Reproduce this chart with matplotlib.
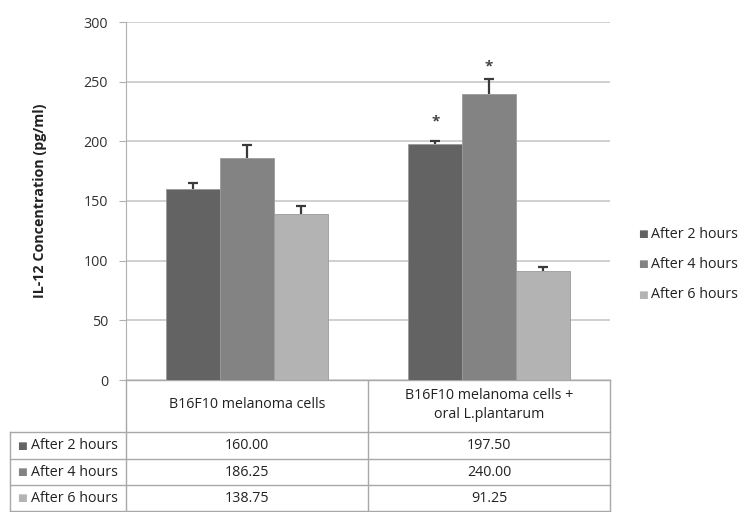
import numpy as np
import matplotlib.pyplot as plt

plt.rcParams['font.family'] = ['Open Sans', 'DejaVu Sans']

# IL-12 values per group
groups = ["B16F10 melanoma cells", "B16F10 melanoma cells +\noral L.plantarum"]
series = ["After 2 hours", "After 4 hours", "After 6 hours"]
values = {
    "After 2 hours": [160.00, 197.50],
    "After 4 hours": [186.25, 240.00],
    "After 6 hours": [138.75, 91.25],
}
errors = {
    "After 2 hours": [5.5, 2.5],
    "After 4 hours": [10.6, 12.6],
    "After 6 hours": [7.0, 3.6],
}
# significance marks: (series, group index)
stars = [("After 2 hours", 1), ("After 4 hours", 1)]
yticks = [0, 50, 100, 150, 200, 250, 300]

colors = {"After 2 hours": "#636363", "After 4 hours": "#838383", "After 6 hours": "#b3b3b3"}
fs = 10.3

W, H = 744, 512
fig = plt.figure(figsize=(W / 100, H / 100), dpi=100)

# plot area in pixel units
left, right, top, bottom = 126, 610, 22, 380
ax = fig.add_axes([left / W, 1 - bottom / H, (right - left) / W, (bottom - top) / H])

x = np.arange(len(groups))
bw = 0.222
for i, s in enumerate(series):
    pos = x + (i - 1) * bw
    ax.bar(pos, values[s], width=bw, color=colors[s], edgecolor="#9a9a9a",
           linewidth=0.6, zorder=3)
    # plus-only error bars: hide the lower cap
    _, caps, _ = ax.errorbar(pos, values[s], yerr=[np.zeros(len(groups)), errors[s]],
                             fmt="none", ecolor="#3a3a3a", elinewidth=1.6,
                             capsize=3.5, capthick=1.6, zorder=4)
    caps[0].set_visible(False)

star_pad = {"After 2 hours": 17, "After 4 hours": 10.5}
for s, g in stars:
    i = series.index(s)
    ax.text(x[g] + (i - 1) * bw, values[s][g] + errors[s][g] + star_pad[s], "*",
            ha="center", va="center", fontsize=11, fontweight="bold",
            color="#444444", zorder=5)

ax.set_xlim(-0.5, len(groups) - 0.5)
ax.set_ylim(0, 300)
ax.set_yticks(yticks)
ax.set_yticklabels([str(t) for t in yticks], fontsize=fs, color="#333333")
ax.tick_params(axis="y", length=5, color="#b0b0b0", pad=8)
ax.set_xticks([])
ax.grid(axis="y", color="#c8c8c8", linewidth=1.2, zorder=0)
for side in ["top", "right", "bottom"]:
    ax.spines[side].set_visible(False)
ax.spines["left"].set_color("#b0b0b0")
ax.set_ylabel("IL-12 Concentration (pg/ml)", fontsize=fs, fontweight="bold",
              color="#222222", labelpad=26)

# overlay in pixel coordinates for the data table and legend
ov = fig.add_axes([0, 0, 1, 1], zorder=-1)
ov.set_xlim(0, W)
ov.set_ylim(H, 0)
ov.axis("off")
ov.patch.set_alpha(0)

lc = "#a8a8a8"
col_x = [left, (left + right) / 2, right]
row_y = [bottom, 432, 459, 485, 511]
label_left = 10
# horizontal lines
ov.plot([left, right], [row_y[0], row_y[0]], color=lc, lw=1)
for y in row_y[1:]:
    ov.plot([label_left, right], [y, y], color=lc, lw=1)
# vertical lines
for cx in col_x:
    ov.plot([cx, cx], [row_y[0], row_y[-1]], color=lc, lw=1)
ov.plot([label_left, label_left], [row_y[1], row_y[-1]], color=lc, lw=1)

for j, g in enumerate(groups):
    cx = (col_x[j] + col_x[j + 1]) / 2
    ov.text(cx, (row_y[0] + row_y[1]) / 2 - 1, g, ha="center", va="center",
            fontsize=fs, color="#222222", linespacing=1.4)

for i, s in enumerate(series):
    cy = (row_y[i + 1] + row_y[i + 2]) / 2
    ov.text(22, cy, "■", ha="center", va="center", fontsize=7.5, color=colors[s],
            family="DejaVu Sans")
    ov.text(31, cy, s, ha="left", va="center", fontsize=fs, color="#222222")
    for j in range(len(groups)):
        cx = (col_x[j] + col_x[j + 1]) / 2
        ov.text(cx, cy, f"{values[s][j]:.2f}", ha="center", va="center",
                fontsize=fs, color="#222222")

# legend on the right
for i, s in enumerate(series):
    ly = 234 + i * 30.5
    ov.text(643, ly, "■", ha="center", va="center", fontsize=7.5, color=colors[s],
            family="DejaVu Sans")
    ov.text(651, ly, s, ha="left", va="center", fontsize=fs, color="#222222")

fig.savefig("out.png", dpi=100, facecolor="white")
